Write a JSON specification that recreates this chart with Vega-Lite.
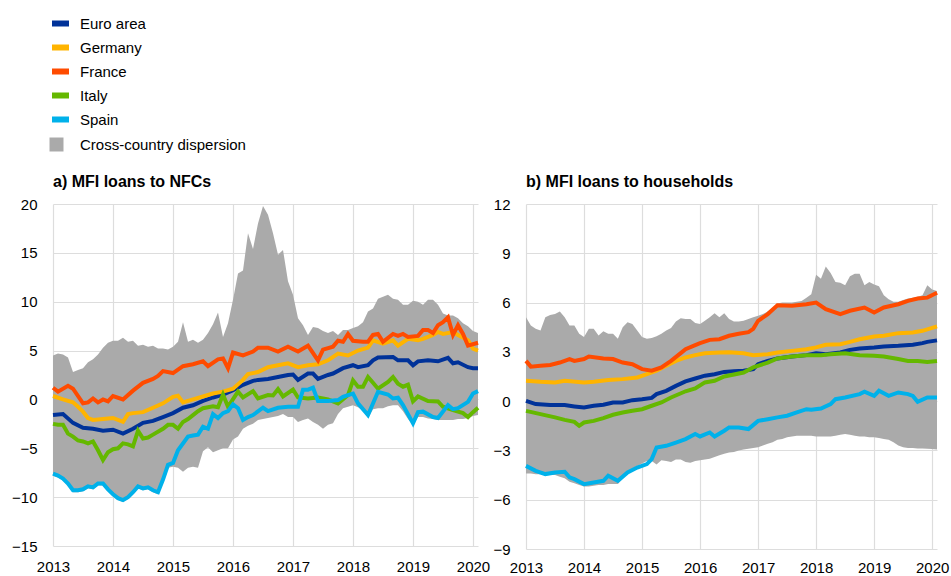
{
"$schema":"https://vega.github.io/schema/vega-lite/v6.json",
"background":"white",
"padding":{"left":11,"top":12,"right":5,"bottom":0},
"config":{
 "font":"Liberation Sans",
 "view":{"stroke":null},
 "axis":{"grid":true,"gridColor":"#dddddd","gridWidth":1.2,"domain":false,"ticks":false,"labelFontSize":15,"labelColor":"#000000","labelFont":"Liberation Sans"},
 "title":{"fontSize":16,"fontWeight":"bold","anchor":"start","frame":"group","color":"#000000","offset":7,"font":"Liberation Sans"},
 "legend":{"labelFontSize":15,"labelColor":"#000000","labelFont":"Liberation Sans","padding":0,"title":null,"labelLimit":400}
},
"datasets":{
"lineA":[
{"s":"Euro area","m":0,"v":-1.6},{"s":"Euro area","m":2,"v":-1.5},{"s":"Euro area","m":4,"v":-2.4},{"s":"Euro area","m":6,"v":-2.9},{"s":"Euro area","m":8,"v":-3.0},{"s":"Euro area","m":10,"v":-3.2},{"s":"Euro area","m":12,"v":-3.1},{"s":"Euro area","m":14,"v":-3.5},{"s":"Euro area","m":16,"v":-3.0},{"s":"Euro area","m":18,"v":-2.4},{"s":"Euro area","m":20,"v":-2.2},{"s":"Euro area","m":22,"v":-1.8},{"s":"Euro area","m":24,"v":-1.4},{"s":"Euro area","m":26,"v":-0.85},{"s":"Euro area","m":28,"v":-0.6},{"s":"Euro area","m":30,"v":-0.15},{"s":"Euro area","m":32,"v":0.2},{"s":"Euro area","m":34,"v":0.5},{"s":"Euro area","m":36,"v":0.95},{"s":"Euro area","m":38,"v":1.5},{"s":"Euro area","m":40,"v":1.9},{"s":"Euro area","m":41,"v":2.0},{"s":"Euro area","m":43,"v":2.1},{"s":"Euro area","m":45,"v":2.3},{"s":"Euro area","m":47,"v":2.5},{"s":"Euro area","m":48,"v":2.55},{"s":"Euro area","m":49,"v":2.0},{"s":"Euro area","m":51,"v":2.65},{"s":"Euro area","m":52,"v":2.65},{"s":"Euro area","m":53,"v":2.1},{"s":"Euro area","m":55,"v":2.5},{"s":"Euro area","m":56,"v":2.65},{"s":"Euro area","m":58,"v":3.2},{"s":"Euro area","m":60,"v":3.5},{"s":"Euro area","m":61,"v":3.3},{"s":"Euro area","m":63,"v":3.5},{"s":"Euro area","m":64,"v":4.0},{"s":"Euro area","m":65,"v":4.3},{"s":"Euro area","m":68,"v":4.35},{"s":"Euro area","m":69,"v":4.0},{"s":"Euro area","m":71,"v":4.0},{"s":"Euro area","m":72,"v":3.5},{"s":"Euro area","m":73,"v":3.9},{"s":"Euro area","m":75,"v":4.0},{"s":"Euro area","m":77,"v":3.9},{"s":"Euro area","m":79,"v":4.25},{"s":"Euro area","m":80,"v":3.7},{"s":"Euro area","m":81,"v":3.8},{"s":"Euro area","m":83,"v":3.3},{"s":"Euro area","m":84,"v":3.2},{"s":"Euro area","m":85,"v":3.2},
{"s":"Germany","m":0,"v":0.35},{"s":"Germany","m":2,"v":0.0},{"s":"Germany","m":4,"v":-0.3},{"s":"Germany","m":5,"v":-0.75},{"s":"Germany","m":6,"v":-1.25},{"s":"Germany","m":7,"v":-1.9},{"s":"Germany","m":8,"v":-2.1},{"s":"Germany","m":10,"v":-2.0},{"s":"Germany","m":12,"v":-1.9},{"s":"Germany","m":14,"v":-2.3},{"s":"Germany","m":15,"v":-1.5},{"s":"Germany","m":16,"v":-1.4},{"s":"Germany","m":18,"v":-1.3},{"s":"Germany","m":20,"v":-0.85},{"s":"Germany","m":22,"v":-0.4},{"s":"Germany","m":24,"v":0.27},{"s":"Germany","m":25,"v":0.37},{"s":"Germany","m":26,"v":-0.3},{"s":"Germany","m":28,"v":0.0},{"s":"Germany","m":30,"v":0.3},{"s":"Germany","m":32,"v":0.6},{"s":"Germany","m":34,"v":0.8},{"s":"Germany","m":36,"v":1.1},{"s":"Germany","m":38,"v":2.0},{"s":"Germany","m":39,"v":2.6},{"s":"Germany","m":41,"v":2.8},{"s":"Germany","m":43,"v":3.3},{"s":"Germany","m":45,"v":3.5},{"s":"Germany","m":47,"v":3.7},{"s":"Germany","m":49,"v":3.3},{"s":"Germany","m":51,"v":3.5},{"s":"Germany","m":53,"v":3.6},{"s":"Germany","m":55,"v":4.0},{"s":"Germany","m":57,"v":4.7},{"s":"Germany","m":59,"v":4.5},{"s":"Germany","m":61,"v":5.0},{"s":"Germany","m":63,"v":5.3},{"s":"Germany","m":64,"v":6.05},{"s":"Germany","m":66,"v":5.7},{"s":"Germany","m":68,"v":6.05},{"s":"Germany","m":69,"v":5.5},{"s":"Germany","m":71,"v":6.2},{"s":"Germany","m":73,"v":6.05},{"s":"Germany","m":74,"v":6.2},{"s":"Germany","m":76,"v":6.6},{"s":"Germany","m":77,"v":6.9},{"s":"Germany","m":78,"v":6.7},{"s":"Germany","m":80,"v":6.9},{"s":"Germany","m":81,"v":6.6},{"s":"Germany","m":83,"v":6.05},{"s":"Germany","m":84,"v":5.2},{"s":"Germany","m":85,"v":5.0},
{"s":"France","m":0,"v":1.2},{"s":"France","m":1,"v":0.8},{"s":"France","m":3,"v":1.4},{"s":"France","m":4,"v":1.1},{"s":"France","m":6,"v":-0.4},{"s":"France","m":7,"v":-0.3},{"s":"France","m":8,"v":0.1},{"s":"France","m":9,"v":-0.3},{"s":"France","m":10,"v":0.0},{"s":"France","m":11,"v":-0.2},{"s":"France","m":12,"v":0.35},{"s":"France","m":14,"v":0.0},{"s":"France","m":16,"v":0.9},{"s":"France","m":18,"v":1.7},{"s":"France","m":20,"v":2.1},{"s":"France","m":21,"v":2.4},{"s":"France","m":22,"v":2.9},{"s":"France","m":24,"v":2.7},{"s":"France","m":26,"v":3.4},{"s":"France","m":28,"v":3.6},{"s":"France","m":30,"v":3.9},{"s":"France","m":31,"v":3.4},{"s":"France","m":33,"v":4.1},{"s":"France","m":34,"v":4.2},{"s":"France","m":35,"v":3.2},{"s":"France","m":36,"v":4.8},{"s":"France","m":38,"v":4.5},{"s":"France","m":40,"v":4.9},{"s":"France","m":41,"v":5.3},{"s":"France","m":43,"v":5.3},{"s":"France","m":45,"v":4.9},{"s":"France","m":47,"v":5.4},{"s":"France","m":49,"v":4.9},{"s":"France","m":51,"v":5.5},{"s":"France","m":53,"v":4.0},{"s":"France","m":54,"v":5.1},{"s":"France","m":56,"v":5.4},{"s":"France","m":57,"v":6.0},{"s":"France","m":58,"v":5.9},{"s":"France","m":59,"v":6.7},{"s":"France","m":60,"v":6.0},{"s":"France","m":62,"v":5.9},{"s":"France","m":63,"v":5.9},{"s":"France","m":64,"v":6.6},{"s":"France","m":65,"v":6.7},{"s":"France","m":66,"v":5.9},{"s":"France","m":68,"v":6.7},{"s":"France","m":69,"v":6.5},{"s":"France","m":70,"v":6.7},{"s":"France","m":71,"v":6.4},{"s":"France","m":73,"v":6.5},{"s":"France","m":74,"v":7.1},{"s":"France","m":75,"v":7.1},{"s":"France","m":76,"v":6.8},{"s":"France","m":77,"v":7.6},{"s":"France","m":78,"v":7.9},{"s":"France","m":79,"v":8.4},{"s":"France","m":80,"v":6.6},{"s":"France","m":81,"v":7.6},{"s":"France","m":82,"v":6.7},{"s":"France","m":83,"v":5.5},{"s":"France","m":85,"v":5.8},
{"s":"Italy","m":0,"v":-2.5},{"s":"Italy","m":1,"v":-2.6},{"s":"Italy","m":2,"v":-2.6},{"s":"Italy","m":3,"v":-3.5},{"s":"Italy","m":4,"v":-3.8},{"s":"Italy","m":5,"v":-4.2},{"s":"Italy","m":6,"v":-4.3},{"s":"Italy","m":7,"v":-4.5},{"s":"Italy","m":8,"v":-4.3},{"s":"Italy","m":9,"v":-5.2},{"s":"Italy","m":10,"v":-6.2},{"s":"Italy","m":11,"v":-5.4},{"s":"Italy","m":12,"v":-5.1},{"s":"Italy","m":13,"v":-5.0},{"s":"Italy","m":14,"v":-4.5},{"s":"Italy","m":15,"v":-4.6},{"s":"Italy","m":16,"v":-4.8},{"s":"Italy","m":17,"v":-3.2},{"s":"Italy","m":18,"v":-4.0},{"s":"Italy","m":19,"v":-3.9},{"s":"Italy","m":20,"v":-3.6},{"s":"Italy","m":22,"v":-3.0},{"s":"Italy","m":23,"v":-2.6},{"s":"Italy","m":24,"v":-2.6},{"s":"Italy","m":25,"v":-3.0},{"s":"Italy","m":26,"v":-2.3},{"s":"Italy","m":27,"v":-2.0},{"s":"Italy","m":28,"v":-1.6},{"s":"Italy","m":29,"v":-1.2},{"s":"Italy","m":30,"v":-0.9},{"s":"Italy","m":32,"v":-0.7},{"s":"Italy","m":33,"v":-0.8},{"s":"Italy","m":34,"v":0.5},{"s":"Italy","m":35,"v":-0.75},{"s":"Italy","m":37,"v":0.8},{"s":"Italy","m":38,"v":0.2},{"s":"Italy","m":40,"v":0.85},{"s":"Italy","m":41,"v":0.1},{"s":"Italy","m":43,"v":0.45},{"s":"Italy","m":44,"v":0.4},{"s":"Italy","m":45,"v":1.05},{"s":"Italy","m":46,"v":0.3},{"s":"Italy","m":48,"v":1.0},{"s":"Italy","m":49,"v":0.2},{"s":"Italy","m":51,"v":0.1},{"s":"Italy","m":53,"v":0.2},{"s":"Italy","m":55,"v":0.0},{"s":"Italy","m":57,"v":-0.4},{"s":"Italy","m":59,"v":0.45},{"s":"Italy","m":60,"v":1.95},{"s":"Italy","m":61,"v":1.3},{"s":"Italy","m":62,"v":1.3},{"s":"Italy","m":63,"v":2.3},{"s":"Italy","m":64,"v":1.7},{"s":"Italy","m":65,"v":1.1},{"s":"Italy","m":67,"v":1.8},{"s":"Italy","m":68,"v":2.3},{"s":"Italy","m":69,"v":1.6},{"s":"Italy","m":70,"v":1.3},{"s":"Italy","m":71,"v":1.5},{"s":"Italy","m":72,"v":-0.2},{"s":"Italy","m":73,"v":0.3},{"s":"Italy","m":75,"v":-0.17},{"s":"Italy","m":77,"v":-0.2},{"s":"Italy","m":78,"v":-0.75},{"s":"Italy","m":80,"v":-1.1},{"s":"Italy","m":82,"v":-1.4},{"s":"Italy","m":83,"v":-1.8},{"s":"Italy","m":84,"v":-1.3},{"s":"Italy","m":85,"v":-0.85},
{"s":"Spain","m":0,"v":-7.6},{"s":"Spain","m":1,"v":-7.8},{"s":"Spain","m":2,"v":-8.1},{"s":"Spain","m":3,"v":-8.6},{"s":"Spain","m":4,"v":-9.3},{"s":"Spain","m":5,"v":-9.3},{"s":"Spain","m":6,"v":-9.2},{"s":"Spain","m":7,"v":-8.9},{"s":"Spain","m":8,"v":-9.0},{"s":"Spain","m":9,"v":-8.6},{"s":"Spain","m":10,"v":-8.6},{"s":"Spain","m":11,"v":-9.2},{"s":"Spain","m":12,"v":-9.7},{"s":"Spain","m":13,"v":-10.1},{"s":"Spain","m":14,"v":-10.3},{"s":"Spain","m":15,"v":-10.0},{"s":"Spain","m":16,"v":-9.5},{"s":"Spain","m":17,"v":-8.9},{"s":"Spain","m":18,"v":-9.1},{"s":"Spain","m":19,"v":-9.0},{"s":"Spain","m":20,"v":-9.3},{"s":"Spain","m":21,"v":-9.5},{"s":"Spain","m":22,"v":-8.2},{"s":"Spain","m":23,"v":-6.7},{"s":"Spain","m":24,"v":-6.5},{"s":"Spain","m":25,"v":-5.2},{"s":"Spain","m":27,"v":-3.8},{"s":"Spain","m":28,"v":-3.7},{"s":"Spain","m":29,"v":-3.6},{"s":"Spain","m":30,"v":-2.8},{"s":"Spain","m":31,"v":-3.0},{"s":"Spain","m":32,"v":-1.5},{"s":"Spain","m":33,"v":-1.9},{"s":"Spain","m":34,"v":-1.4},{"s":"Spain","m":35,"v":-1.2},{"s":"Spain","m":36,"v":-0.5},{"s":"Spain","m":37,"v":-0.9},{"s":"Spain","m":38,"v":-2.1},{"s":"Spain","m":39,"v":-1.8},{"s":"Spain","m":40,"v":-1.6},{"s":"Spain","m":42,"v":-0.85},{"s":"Spain","m":43,"v":-1.2},{"s":"Spain","m":45,"v":-0.85},{"s":"Spain","m":47,"v":-0.75},{"s":"Spain","m":49,"v":-0.75},{"s":"Spain","m":50,"v":1.0},{"s":"Spain","m":51,"v":1.0},{"s":"Spain","m":52,"v":1.2},{"s":"Spain","m":53,"v":-0.17},{"s":"Spain","m":55,"v":-0.17},{"s":"Spain","m":57,"v":-0.07},{"s":"Spain","m":58,"v":0.27},{"s":"Spain","m":59,"v":0.44},{"s":"Spain","m":60,"v":0.6},{"s":"Spain","m":61,"v":-0.4},{"s":"Spain","m":63,"v":-1.6},{"s":"Spain","m":65,"v":0.78},{"s":"Spain","m":67,"v":0.5},{"s":"Spain","m":68,"v":0.1},{"s":"Spain","m":69,"v":0.17},{"s":"Spain","m":70,"v":-0.58},{"s":"Spain","m":72,"v":-2.45},{"s":"Spain","m":73,"v":-1.3},{"s":"Spain","m":74,"v":-1.25},{"s":"Spain","m":76,"v":-1.8},{"s":"Spain","m":77,"v":-1.9},{"s":"Spain","m":79,"v":-0.58},{"s":"Spain","m":80,"v":-1.0},{"s":"Spain","m":81,"v":-0.9},{"s":"Spain","m":83,"v":-0.25},{"s":"Spain","m":84,"v":0.6},{"s":"Spain","m":85,"v":0.85}
],
"bandA":[
{"m":0,"lo":-7.8,"hi":4.5},{"m":1,"lo":-8.0,"hi":4.7},{"m":2,"lo":-8.3,"hi":4.6},{"m":3,"lo":-8.8,"hi":4.3},{"m":4,"lo":-9.5,"hi":2.8},{"m":5,"lo":-9.5,"hi":3.0},{"m":6,"lo":-9.4,"hi":3.2},{"m":7,"lo":-9.1,"hi":3.8},{"m":8,"lo":-9.2,"hi":4.1},{"m":9,"lo":-8.8,"hi":4.6},{"m":10,"lo":-8.8,"hi":5.3},{"m":11,"lo":-9.4,"hi":5.8},{"m":12,"lo":-9.9,"hi":6.0},{"m":13,"lo":-10.3,"hi":6.0},{"m":14,"lo":-10.5,"hi":6.3},{"m":15,"lo":-10.2,"hi":5.9},{"m":16,"lo":-9.7,"hi":6.0},{"m":17,"lo":-9.1,"hi":5.5},{"m":18,"lo":-9.3,"hi":5.6},{"m":19,"lo":-9.2,"hi":5.4},{"m":20,"lo":-9.5,"hi":5.5},{"m":21,"lo":-9.7,"hi":5.2},{"m":22,"lo":-8.6,"hi":5.2},{"m":23,"lo":-7.0,"hi":5.1},{"m":24,"lo":-6.9,"hi":5.4},{"m":25,"lo":-7.0,"hi":5.9},{"m":26,"lo":-7.4,"hi":7.9},{"m":27,"lo":-7.0,"hi":5.9},{"m":28,"lo":-6.9,"hi":6.1},{"m":29,"lo":-7.0,"hi":5.8},{"m":30,"lo":-5.3,"hi":6.1},{"m":31,"lo":-4.9,"hi":6.8},{"m":32,"lo":-5.4,"hi":7.7},{"m":33,"lo":-5.2,"hi":8.9},{"m":34,"lo":-5.0,"hi":6.4},{"m":35,"lo":-5.0,"hi":7.8},{"m":36,"lo":-4.1,"hi":10.2},{"m":37,"lo":-3.8,"hi":12.9},{"m":38,"lo":-3.0,"hi":13.2},{"m":39,"lo":-2.7,"hi":17.0},{"m":40,"lo":-2.5,"hi":15.4},{"m":41,"lo":-2.1,"hi":18.0},{"m":42,"lo":-2.0,"hi":19.8},{"m":43,"lo":-1.9,"hi":18.9},{"m":44,"lo":-1.8,"hi":17.0},{"m":45,"lo":-1.7,"hi":14.8},{"m":46,"lo":-1.5,"hi":15.3},{"m":47,"lo":-1.8,"hi":12.1},{"m":48,"lo":-1.8,"hi":10.7},{"m":49,"lo":-2.3,"hi":8.3},{"m":50,"lo":-2.1,"hi":7.6},{"m":51,"lo":-1.95,"hi":6.6},{"m":52,"lo":-2.3,"hi":7.4},{"m":53,"lo":-2.6,"hi":7.3},{"m":54,"lo":-3.0,"hi":7.0},{"m":55,"lo":-2.6,"hi":6.8},{"m":56,"lo":-2.45,"hi":7.0},{"m":57,"lo":-1.5,"hi":6.6},{"m":58,"lo":-0.9,"hi":7.1},{"m":59,"lo":-0.75,"hi":7.1},{"m":60,"lo":-0.6,"hi":7.3},{"m":61,"lo":-0.8,"hi":7.5},{"m":62,"lo":-1.1,"hi":7.9},{"m":63,"lo":-1.9,"hi":9.0},{"m":64,"lo":-1.0,"hi":9.3},{"m":65,"lo":-0.9,"hi":10.3},{"m":66,"lo":-0.9,"hi":10.5},{"m":67,"lo":-0.7,"hi":10.7},{"m":68,"lo":-0.6,"hi":10.3},{"m":69,"lo":-0.6,"hi":10.2},{"m":70,"lo":-1.2,"hi":9.7},{"m":71,"lo":-2.0,"hi":9.7},{"m":72,"lo":-2.6,"hi":10.1},{"m":73,"lo":-1.8,"hi":10.0},{"m":74,"lo":-1.8,"hi":9.7},{"m":75,"lo":-1.95,"hi":10.2},{"m":76,"lo":-2.0,"hi":10.2},{"m":77,"lo":-2.1,"hi":9.7},{"m":78,"lo":-2.1,"hi":8.8},{"m":79,"lo":-2.1,"hi":8.6},{"m":80,"lo":-2.1,"hi":8.6},{"m":81,"lo":-2.0,"hi":8.3},{"m":82,"lo":-2.0,"hi":7.8},{"m":83,"lo":-1.9,"hi":7.5},{"m":84,"lo":-1.7,"hi":7.0},{"m":85,"lo":-1.6,"hi":6.8}
],
"lineB":[
{"s":"Euro area","m":0,"v":0.02},{"s":"Euro area","m":2,"v":-0.18},{"s":"Euro area","m":5,"v":-0.24},{"s":"Euro area","m":8,"v":-0.24},{"s":"Euro area","m":10,"v":-0.32},{"s":"Euro area","m":12,"v":-0.39},{"s":"Euro area","m":14,"v":-0.28},{"s":"Euro area","m":16,"v":-0.22},{"s":"Euro area","m":18,"v":-0.08},{"s":"Euro area","m":20,"v":-0.08},{"s":"Euro area","m":22,"v":0.06},{"s":"Euro area","m":24,"v":0.12},{"s":"Euro area","m":26,"v":0.2},{"s":"Euro area","m":27,"v":0.43},{"s":"Euro area","m":29,"v":0.63},{"s":"Euro area","m":31,"v":0.93},{"s":"Euro area","m":33,"v":1.2},{"s":"Euro area","m":35,"v":1.38},{"s":"Euro area","m":37,"v":1.55},{"s":"Euro area","m":39,"v":1.64},{"s":"Euro area","m":41,"v":1.78},{"s":"Euro area","m":43,"v":1.82},{"s":"Euro area","m":45,"v":1.85},{"s":"Euro area","m":47,"v":1.95},{"s":"Euro area","m":48,"v":2.25},{"s":"Euro area","m":50,"v":2.45},{"s":"Euro area","m":52,"v":2.6},{"s":"Euro area","m":55,"v":2.72},{"s":"Euro area","m":58,"v":2.8},{"s":"Euro area","m":60,"v":2.92},{"s":"Euro area","m":62,"v":2.86},{"s":"Euro area","m":65,"v":2.96},{"s":"Euro area","m":67,"v":3.12},{"s":"Euro area","m":69,"v":3.2},{"s":"Euro area","m":72,"v":3.27},{"s":"Euro area","m":74,"v":3.33},{"s":"Euro area","m":77,"v":3.37},{"s":"Euro area","m":80,"v":3.43},{"s":"Euro area","m":82,"v":3.53},{"s":"Euro area","m":83,"v":3.61},{"s":"Euro area","m":85,"v":3.7},
{"s":"Germany","m":0,"v":1.24},{"s":"Germany","m":3,"v":1.18},{"s":"Germany","m":6,"v":1.14},{"s":"Germany","m":8,"v":1.24},{"s":"Germany","m":12,"v":1.14},{"s":"Germany","m":14,"v":1.18},{"s":"Germany","m":17,"v":1.28},{"s":"Germany","m":20,"v":1.34},{"s":"Germany","m":23,"v":1.44},{"s":"Germany","m":25,"v":1.64},{"s":"Germany","m":27,"v":1.85},{"s":"Germany","m":29,"v":2.15},{"s":"Germany","m":31,"v":2.45},{"s":"Germany","m":33,"v":2.66},{"s":"Germany","m":35,"v":2.8},{"s":"Germany","m":37,"v":2.92},{"s":"Germany","m":40,"v":2.96},{"s":"Germany","m":42,"v":2.98},{"s":"Germany","m":45,"v":2.92},{"s":"Germany","m":47,"v":2.8},{"s":"Germany","m":50,"v":2.86},{"s":"Germany","m":52,"v":2.96},{"s":"Germany","m":55,"v":3.06},{"s":"Germany","m":58,"v":3.16},{"s":"Germany","m":60,"v":3.27},{"s":"Germany","m":62,"v":3.43},{"s":"Germany","m":65,"v":3.47},{"s":"Germany","m":67,"v":3.61},{"s":"Germany","m":69,"v":3.77},{"s":"Germany","m":72,"v":3.94},{"s":"Germany","m":74,"v":3.98},{"s":"Germany","m":77,"v":4.14},{"s":"Germany","m":80,"v":4.18},{"s":"Germany","m":82,"v":4.28},{"s":"Germany","m":85,"v":4.55},
{"s":"France","m":0,"v":2.45},{"s":"France","m":1,"v":2.1},{"s":"France","m":3,"v":2.15},{"s":"France","m":5,"v":2.2},{"s":"France","m":7,"v":2.35},{"s":"France","m":9,"v":2.56},{"s":"France","m":10,"v":2.45},{"s":"France","m":12,"v":2.56},{"s":"France","m":13,"v":2.72},{"s":"France","m":16,"v":2.6},{"s":"France","m":18,"v":2.56},{"s":"France","m":20,"v":2.35},{"s":"France","m":22,"v":2.25},{"s":"France","m":24,"v":1.95},{"s":"France","m":26,"v":1.85},{"s":"France","m":28,"v":2.05},{"s":"France","m":30,"v":2.45},{"s":"France","m":32,"v":2.92},{"s":"France","m":33,"v":3.16},{"s":"France","m":35,"v":3.41},{"s":"France","m":36,"v":3.53},{"s":"France","m":38,"v":3.73},{"s":"France","m":40,"v":3.77},{"s":"France","m":42,"v":3.98},{"s":"France","m":44,"v":4.1},{"s":"France","m":46,"v":4.2},{"s":"France","m":47,"v":4.4},{"s":"France","m":48,"v":4.89},{"s":"France","m":50,"v":5.3},{"s":"France","m":52,"v":5.84},{"s":"France","m":55,"v":5.8},{"s":"France","m":58,"v":5.9},{"s":"France","m":60,"v":6.0},{"s":"France","m":62,"v":5.6},{"s":"France","m":65,"v":5.3},{"s":"France","m":67,"v":5.5},{"s":"France","m":70,"v":5.7},{"s":"France","m":72,"v":5.4},{"s":"France","m":74,"v":5.7},{"s":"France","m":77,"v":5.9},{"s":"France","m":79,"v":6.1},{"s":"France","m":81,"v":6.25},{"s":"France","m":83,"v":6.3},{"s":"France","m":85,"v":6.6},
{"s":"Italy","m":0,"v":-0.59},{"s":"Italy","m":3,"v":-0.79},{"s":"Italy","m":6,"v":-0.99},{"s":"Italy","m":8,"v":-1.14},{"s":"Italy","m":10,"v":-1.26},{"s":"Italy","m":11,"v":-1.5},{"s":"Italy","m":12,"v":-1.3},{"s":"Italy","m":14,"v":-1.2},{"s":"Italy","m":16,"v":-1.03},{"s":"Italy","m":18,"v":-0.83},{"s":"Italy","m":20,"v":-0.69},{"s":"Italy","m":22,"v":-0.59},{"s":"Italy","m":24,"v":-0.49},{"s":"Italy","m":26,"v":-0.28},{"s":"Italy","m":28,"v":-0.08},{"s":"Italy","m":30,"v":0.22},{"s":"Italy","m":33,"v":0.6},{"s":"Italy","m":35,"v":0.77},{"s":"Italy","m":37,"v":1.14},{"s":"Italy","m":39,"v":1.24},{"s":"Italy","m":41,"v":1.5},{"s":"Italy","m":45,"v":1.74},{"s":"Italy","m":47,"v":2.05},{"s":"Italy","m":50,"v":2.35},{"s":"Italy","m":52,"v":2.6},{"s":"Italy","m":55,"v":2.72},{"s":"Italy","m":58,"v":2.8},{"s":"Italy","m":61,"v":2.8},{"s":"Italy","m":63,"v":2.86},{"s":"Italy","m":66,"v":2.92},{"s":"Italy","m":69,"v":2.8},{"s":"Italy","m":72,"v":2.76},{"s":"Italy","m":74,"v":2.72},{"s":"Italy","m":77,"v":2.56},{"s":"Italy","m":79,"v":2.45},{"s":"Italy","m":81,"v":2.45},{"s":"Italy","m":83,"v":2.39},{"s":"Italy","m":85,"v":2.45},
{"s":"Spain","m":0,"v":-3.94},{"s":"Spain","m":2,"v":-4.24},{"s":"Spain","m":4,"v":-4.44},{"s":"Spain","m":6,"v":-4.34},{"s":"Spain","m":8,"v":-4.3},{"s":"Spain","m":9,"v":-4.64},{"s":"Spain","m":10,"v":-4.75},{"s":"Spain","m":12,"v":-5.05},{"s":"Spain","m":14,"v":-4.95},{"s":"Spain","m":16,"v":-4.85},{"s":"Spain","m":17,"v":-4.54},{"s":"Spain","m":19,"v":-4.85},{"s":"Spain","m":21,"v":-4.34},{"s":"Spain","m":23,"v":-4.04},{"s":"Spain","m":25,"v":-3.83},{"s":"Spain","m":26,"v":-3.53},{"s":"Spain","m":27,"v":-2.82},{"s":"Spain","m":29,"v":-2.72},{"s":"Spain","m":31,"v":-2.52},{"s":"Spain","m":33,"v":-2.31},{"s":"Spain","m":35,"v":-2.0},{"s":"Spain","m":36,"v":-2.15},{"s":"Spain","m":38,"v":-1.91},{"s":"Spain","m":39,"v":-2.15},{"s":"Spain","m":41,"v":-1.8},{"s":"Spain","m":42,"v":-1.6},{"s":"Spain","m":44,"v":-1.6},{"s":"Spain","m":46,"v":-1.7},{"s":"Spain","m":48,"v":-1.2},{"s":"Spain","m":50,"v":-1.1},{"s":"Spain","m":52,"v":-0.99},{"s":"Spain","m":54,"v":-0.89},{"s":"Spain","m":56,"v":-0.69},{"s":"Spain","m":58,"v":-0.49},{"s":"Spain","m":59,"v":-0.53},{"s":"Spain","m":61,"v":-0.45},{"s":"Spain","m":63,"v":-0.18},{"s":"Spain","m":64,"v":0.12},{"s":"Spain","m":66,"v":0.22},{"s":"Spain","m":69,"v":0.43},{"s":"Spain","m":70,"v":0.57},{"s":"Spain","m":72,"v":0.32},{"s":"Spain","m":73,"v":0.63},{"s":"Spain","m":75,"v":0.32},{"s":"Spain","m":77,"v":0.53},{"s":"Spain","m":79,"v":0.43},{"s":"Spain","m":80,"v":0.32},{"s":"Spain","m":81,"v":-0.04},{"s":"Spain","m":83,"v":0.22},{"s":"Spain","m":85,"v":0.22}
],
"bandB":[
{"m":0,"lo":-4.4,"hi":5.1},{"m":1,"lo":-4.4,"hi":4.6},{"m":2,"lo":-4.45,"hi":4.4},{"m":3,"lo":-4.45,"hi":4.3},{"m":4,"lo":-4.5,"hi":5.1},{"m":5,"lo":-4.5,"hi":5.25},{"m":6,"lo":-4.5,"hi":5.3},{"m":7,"lo":-4.6,"hi":5.45},{"m":8,"lo":-4.7,"hi":5.1},{"m":9,"lo":-4.9,"hi":4.6},{"m":10,"lo":-5.0,"hi":4.6},{"m":11,"lo":-5.1,"hi":4.1},{"m":12,"lo":-5.2,"hi":3.9},{"m":13,"lo":-5.2,"hi":4.4},{"m":14,"lo":-5.15,"hi":4.4},{"m":15,"lo":-5.1,"hi":4.0},{"m":16,"lo":-5.1,"hi":4.25},{"m":17,"lo":-5.05,"hi":4.1},{"m":18,"lo":-5.05,"hi":4.1},{"m":19,"lo":-5.05,"hi":3.8},{"m":20,"lo":-4.7,"hi":4.5},{"m":21,"lo":-4.3,"hi":4.8},{"m":22,"lo":-4.1,"hi":4.7},{"m":23,"lo":-3.95,"hi":4.3},{"m":24,"lo":-3.8,"hi":3.9},{"m":25,"lo":-3.65,"hi":3.8},{"m":26,"lo":-3.65,"hi":3.85},{"m":27,"lo":-3.85,"hi":3.95},{"m":28,"lo":-3.6,"hi":4.1},{"m":29,"lo":-3.65,"hi":4.3},{"m":30,"lo":-3.7,"hi":4.45},{"m":31,"lo":-3.55,"hi":4.85},{"m":32,"lo":-3.55,"hi":5.05},{"m":33,"lo":-3.7,"hi":5.0},{"m":34,"lo":-3.75,"hi":5.0},{"m":35,"lo":-3.65,"hi":4.75},{"m":36,"lo":-3.6,"hi":4.7},{"m":37,"lo":-3.55,"hi":4.9},{"m":38,"lo":-3.5,"hi":5.1},{"m":39,"lo":-3.4,"hi":5.35},{"m":40,"lo":-3.3,"hi":5.1},{"m":41,"lo":-3.2,"hi":5.35},{"m":42,"lo":-3.12,"hi":5.0},{"m":43,"lo":-3.1,"hi":4.85},{"m":44,"lo":-3.0,"hi":4.85},{"m":45,"lo":-2.95,"hi":4.9},{"m":46,"lo":-2.9,"hi":5.0},{"m":47,"lo":-2.85,"hi":5.1},{"m":48,"lo":-2.8,"hi":5.2},{"m":49,"lo":-2.7,"hi":5.3},{"m":50,"lo":-2.6,"hi":5.45},{"m":51,"lo":-2.5,"hi":5.65},{"m":52,"lo":-2.35,"hi":5.95},{"m":53,"lo":-2.3,"hi":6.0},{"m":54,"lo":-2.2,"hi":6.0},{"m":55,"lo":-2.15,"hi":6.0},{"m":56,"lo":-2.1,"hi":6.05},{"m":57,"lo":-2.1,"hi":6.1},{"m":58,"lo":-2.1,"hi":6.3},{"m":59,"lo":-2.1,"hi":6.5},{"m":60,"lo":-2.15,"hi":7.7},{"m":61,"lo":-2.15,"hi":7.45},{"m":62,"lo":-2.15,"hi":8.2},{"m":63,"lo":-2.15,"hi":7.8},{"m":64,"lo":-2.1,"hi":7.25},{"m":65,"lo":-2.05,"hi":7.2},{"m":66,"lo":-2.0,"hi":7.05},{"m":67,"lo":-2.05,"hi":7.6},{"m":68,"lo":-2.1,"hi":7.75},{"m":69,"lo":-2.15,"hi":7.75},{"m":70,"lo":-2.15,"hi":7.05},{"m":71,"lo":-2.2,"hi":7.25},{"m":72,"lo":-2.2,"hi":7.1},{"m":73,"lo":-2.25,"hi":7.0},{"m":74,"lo":-2.3,"hi":6.45},{"m":75,"lo":-2.35,"hi":6.2},{"m":76,"lo":-2.5,"hi":6.05},{"m":77,"lo":-2.7,"hi":6.05},{"m":78,"lo":-2.8,"hi":6.15},{"m":79,"lo":-2.85,"hi":6.25},{"m":80,"lo":-2.85,"hi":6.3},{"m":81,"lo":-2.88,"hi":6.35},{"m":82,"lo":-2.88,"hi":6.45},{"m":83,"lo":-2.9,"hi":7.05},{"m":84,"lo":-2.92,"hi":6.8},{"m":85,"lo":-2.95,"hi":6.7}
]
},
"spacing":2,
"hconcat":[
{
 "title":{"text":"a) MFI loans to NFCs"},
 "width":425,"height":342,
 "layer":[
  {"data":{"name":"bandA"},"mark":{"type":"area","color":"#aaaaaa"},
   "encoding":{
    "x":{"field":"m","type":"quantitative","title":null,"scale":{"domain":[0,85],"nice":false,"zero":false},"axis":{"values":[0,12,24,36,48,60,72,84],"labelExpr":"2013 + datum.value/12","labelFlush":false,"labelOverlap":false,"labelPadding":13,"grid":true}},
    "y":{"field":"lo","type":"quantitative","title":null,"scale":{"domain":[-15,20],"nice":false,"zero":false},"axis":{"values":[-15,-10,-5,0,5,10,15,20],"labelPadding":16,"labelOverlap":false}},
    "y2":{"field":"hi"},
    "fill":{"datum":"Cross-country dispersion","type":"nominal","scale":{"range":["#aaaaaa"]},"legend":{"orient":"none","legendX":-4,"legendY":-67,"symbolType":"square","symbolSize":196,"symbolStrokeWidth":0,"labelOffset":16}}
   }},
  {"mark":{"type":"rule","color":"#dddddd","strokeWidth":2},"encoding":{"y":{"datum":0}}},
  {"data":{"name":"lineA"},"mark":{"type":"line","strokeWidth":4},
   "encoding":{
    "x":{"field":"m","type":"quantitative","title":null},
    "y":{"field":"v","type":"quantitative","title":null},
    "color":{"field":"s","type":"nominal","sort":null,"scale":{"domain":["Euro area","Germany","France","Italy","Spain"],"range":["#003299","#ffb400","#ff4b00","#65b800","#00b1ea"]},
     "legend":{"orient":"none","legendX":-4,"legendY":-192,"symbolType":"stroke","symbolSize":289,"symbolStrokeWidth":6,"labelOffset":8,"rowPadding":-1.8,"encode":{"symbols":{"update":{"strokeWidth":{"value":6}}}}}}
   }}
 ]
},
{
 "title":{"text":"b) MFI loans to households"},
 "width":411,"height":345,
 "layer":[
  {"data":{"name":"bandB"},"mark":{"type":"area","color":"#aaaaaa"},
   "encoding":{
    "x":{"field":"m","type":"quantitative","title":null,"scale":{"domain":[0,85],"nice":false,"zero":false},"axis":{"values":[0,12,24,36,48,60,72,84],"labelExpr":"2013 + datum.value/12","labelFlush":false,"labelOverlap":false,"labelPadding":11,"grid":true}},
    "y":{"field":"lo","type":"quantitative","title":null,"scale":{"domain":[-9,12],"nice":false,"zero":false},"axis":{"values":[-9,-6,-3,0,3,6,9,12],"labelPadding":16,"labelOverlap":false}},
    "y2":{"field":"hi"},
    "fill":{"datum":"Cross-country dispersion","type":"nominal","scale":{"range":["#aaaaaa"]},"legend":{"orient":"none","legendX":-4,"legendY":-67,"symbolType":"square","symbolSize":196,"symbolStrokeWidth":0,"labelOffset":16}}
   }},
  {"mark":{"type":"rule","color":"#dddddd","strokeWidth":2},"encoding":{"y":{"datum":0}}},
  {"data":{"name":"lineB"},"mark":{"type":"line","strokeWidth":4},
   "encoding":{
    "x":{"field":"m","type":"quantitative","title":null},
    "y":{"field":"v","type":"quantitative","title":null},
    "color":{"field":"s","type":"nominal","sort":null,"scale":{"domain":["Euro area","Germany","France","Italy","Spain"],"range":["#003299","#ffb400","#ff4b00","#65b800","#00b1ea"]},
     "legend":{"orient":"none","legendX":-4,"legendY":-192,"symbolType":"stroke","symbolSize":289,"symbolStrokeWidth":6,"labelOffset":8,"rowPadding":-1.8,"encode":{"symbols":{"update":{"strokeWidth":{"value":6}}}}}}
   }}
 ]
}
]
}
